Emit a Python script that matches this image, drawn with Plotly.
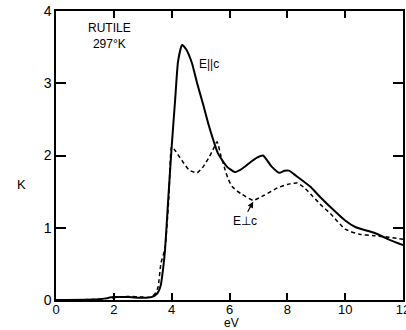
import plotly.graph_objects as go

# E || c (solid)
par_x = [0.0, 1.5, 2.0, 2.5, 3.0, 3.3, 3.5, 3.62, 3.7, 3.77, 3.88, 4.0, 4.12, 4.22, 4.36, 4.5, 4.7, 4.88, 5.08, 5.26, 5.45, 5.6, 5.9, 6.19, 6.45, 6.7, 6.95, 7.16, 7.45, 7.72, 7.9, 8.06, 8.3, 8.79, 9.1, 9.48, 10.0, 10.35, 11.0, 11.5, 12.0]
par_y = [0.0, 0.01, 0.04, 0.04, 0.03, 0.04, 0.09, 0.2, 0.42, 0.69, 1.39, 2.12, 2.77, 3.3, 3.53, 3.47, 3.28, 3.0, 2.72, 2.45, 2.2, 2.03, 1.85, 1.77, 1.82, 1.9, 1.97, 2.0, 1.85, 1.76, 1.79, 1.79, 1.72, 1.57, 1.44, 1.29, 1.1, 1.01, 0.93, 0.84, 0.76]

# E ⊥ c (dashed)
perp_x = [0.0, 1.5, 2.0, 2.5, 3.0, 3.3, 3.45, 3.53, 3.63, 3.77, 3.9, 4.0, 4.1, 4.29, 4.6, 4.88, 5.1, 5.3, 5.43, 5.57, 5.7, 5.85, 5.95, 6.09, 6.4, 6.82, 7.2, 7.65, 8.0, 8.34, 8.6, 8.89, 9.2, 9.48, 10.0, 10.5, 11.0, 11.5, 12.0]
perp_y = [0.0, 0.01, 0.03, 0.05, 0.04, 0.04, 0.1, 0.18, 0.51, 0.72, 1.4, 2.12, 2.08, 1.97, 1.8, 1.76, 1.85, 1.98, 2.08, 2.19, 2.0, 1.8, 1.68, 1.57, 1.47, 1.38, 1.45, 1.55, 1.6, 1.62, 1.55, 1.43, 1.3, 1.2, 0.98, 0.91, 0.89, 0.87, 0.84]

x_ticks = [0, 2, 4, 6, 8, 10, 12]
x_labels = ["0", "2", "4", "6", "8", "10", "12"]
y_ticks = [0, 1, 2, 3, 4]
y_labels = ["0", "1", "2", "3", "4"]

font = "Liberation Sans, Arial, sans-serif"

fig = go.Figure()
fig.add_trace(go.Scatter(x=par_x, y=par_y, mode="lines",
                         line=dict(color="black", width=2, shape="spline", smoothing=0.5),
                         showlegend=False, hoverinfo="skip"))
fig.add_trace(go.Scatter(x=perp_x, y=perp_y, mode="lines",
                         line=dict(color="black", width=1.5, dash="4px,3px", shape="spline", smoothing=0.5),
                         showlegend=False, hoverinfo="skip"))

fig.update_layout(
    width=406, height=330,
    margin=dict(l=56, r=3, t=11, b=30),
    paper_bgcolor="white", plot_bgcolor="white",
    font=dict(family=font, color="black", size=13),
    xaxis=dict(range=[0, 12], tickvals=x_ticks, ticktext=x_labels,
               ticks="inside", ticklen=7, tickwidth=1.5, tickcolor="black",
               showline=True, linecolor="black", linewidth=1.5, mirror="ticks",
               showgrid=False, zeroline=False, tickfont=dict(size=13),
               ticklabelstandoff=-3,
               ticklabeloverflow="allow", automargin=False),
    yaxis=dict(range=[0, 4], tickvals=y_ticks, ticktext=y_labels,
               ticks="inside", ticklen=10, tickwidth=1.5, tickcolor="black",
               showline=True, linecolor="black", linewidth=1.5, mirror="ticks",
               showgrid=False, zeroline=False, tickfont=dict(size=14),
               ticklabeloverflow="allow", automargin=False),
)

fig.add_annotation(x=1.85, y=3.65, text="RUTILE<br>297°K", showarrow=False,
                   font=dict(size=12, family=font), align="center")
fig.add_annotation(x=5.3, y=3.27, text="E||c", showarrow=False,
                   font=dict(size=12, family=font))
fig.add_annotation(x=6.55, y=1.09, text="E⊥c", showarrow=False,
                   font=dict(size=12, family=font))
fig.add_annotation(x=6.82, y=1.36, ax=6.6, ay=1.2, axref="x", ayref="y",
                   text="", showarrow=True, arrowhead=2, arrowsize=1,
                   arrowwidth=1.2, arrowcolor="black")
fig.add_annotation(xref="paper", yref="paper", x=-0.118, y=0.40, text="K",
                   showarrow=False, font=dict(size=13, family=font))
fig.add_annotation(xref="paper", yref="paper", x=0.507, y=-0.081, text="eV",
                   showarrow=False, font=dict(size=12, family=font), yanchor="middle",
                   borderpad=0)

fig.write_html("out.html")
